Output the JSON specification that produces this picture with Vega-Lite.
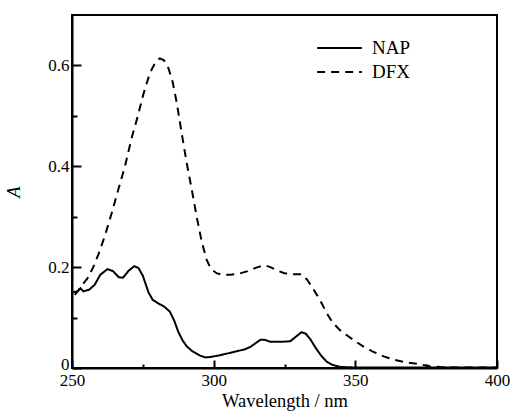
{
  "$schema": "https://vega.github.io/schema/vega-lite/v6.json",
  "width": 425,
  "height": 353,
  "autosize": {"type": "none"},
  "padding": {"left": 72, "top": 15, "right": 16, "bottom": 46},
  "background": "white",
  "config": {
    "font": "'Liberation Serif', 'Times New Roman', Times, serif",
    "view": {"stroke": "black", "strokeWidth": 2},
    "axis": {
      "grid": false,
      "domainColor": "black",
      "domainWidth": 2,
      "tickColor": "black",
      "tickWidth": 2,
      "labelColor": "black",
      "titleColor": "black",
      "labelFont": "'Liberation Serif', 'Times New Roman', Times, serif",
      "titleFont": "'Liberation Serif', 'Times New Roman', Times, serif",
      "labelFontSize": 17,
      "titleFontSize": 18.5,
      "titleFontWeight": "normal"
    },
    "legend": {
      "labelFont": "'Liberation Serif', 'Times New Roman', Times, serif"
    }
  },
  "data": {
    "values": [
      {"series": "NAP", "x": 250, "y": 0.150},
      {"series": "NAP", "x": 252, "y": 0.152},
      {"series": "NAP", "x": 253, "y": 0.158},
      {"series": "NAP", "x": 254, "y": 0.152},
      {"series": "NAP", "x": 256, "y": 0.155},
      {"series": "NAP", "x": 258, "y": 0.165},
      {"series": "NAP", "x": 260, "y": 0.185},
      {"series": "NAP", "x": 262.5, "y": 0.196},
      {"series": "NAP", "x": 264.5, "y": 0.192},
      {"series": "NAP", "x": 266.5, "y": 0.180},
      {"series": "NAP", "x": 268, "y": 0.179},
      {"series": "NAP", "x": 270, "y": 0.193},
      {"series": "NAP", "x": 272, "y": 0.202},
      {"series": "NAP", "x": 273.5, "y": 0.198},
      {"series": "NAP", "x": 275, "y": 0.183},
      {"series": "NAP", "x": 277, "y": 0.150},
      {"series": "NAP", "x": 278.5, "y": 0.135},
      {"series": "NAP", "x": 280.5, "y": 0.128},
      {"series": "NAP", "x": 282.5, "y": 0.122},
      {"series": "NAP", "x": 284.5, "y": 0.112},
      {"series": "NAP", "x": 286, "y": 0.095},
      {"series": "NAP", "x": 287.5, "y": 0.072},
      {"series": "NAP", "x": 289, "y": 0.055},
      {"series": "NAP", "x": 290.5, "y": 0.043},
      {"series": "NAP", "x": 292.5, "y": 0.033},
      {"series": "NAP", "x": 295, "y": 0.025},
      {"series": "NAP", "x": 297, "y": 0.021},
      {"series": "NAP", "x": 299, "y": 0.022},
      {"series": "NAP", "x": 302, "y": 0.025},
      {"series": "NAP", "x": 305, "y": 0.029},
      {"series": "NAP", "x": 308, "y": 0.033},
      {"series": "NAP", "x": 311, "y": 0.037},
      {"series": "NAP", "x": 313, "y": 0.042},
      {"series": "NAP", "x": 315, "y": 0.050},
      {"series": "NAP", "x": 316.5, "y": 0.056},
      {"series": "NAP", "x": 318, "y": 0.056},
      {"series": "NAP", "x": 320, "y": 0.052},
      {"series": "NAP", "x": 324, "y": 0.052},
      {"series": "NAP", "x": 327, "y": 0.053},
      {"series": "NAP", "x": 329, "y": 0.062},
      {"series": "NAP", "x": 331, "y": 0.071},
      {"series": "NAP", "x": 332.5, "y": 0.068},
      {"series": "NAP", "x": 334, "y": 0.058},
      {"series": "NAP", "x": 336, "y": 0.040},
      {"series": "NAP", "x": 338, "y": 0.024},
      {"series": "NAP", "x": 340, "y": 0.012},
      {"series": "NAP", "x": 342, "y": 0.006},
      {"series": "NAP", "x": 345, "y": 0.002},
      {"series": "NAP", "x": 350, "y": 0.001},
      {"series": "NAP", "x": 360, "y": 0.001},
      {"series": "NAP", "x": 380, "y": 0.001},
      {"series": "NAP", "x": 400, "y": 0.001},
      {"series": "DFX", "x": 251, "y": 0.145},
      {"series": "DFX", "x": 253, "y": 0.160},
      {"series": "DFX", "x": 255.5, "y": 0.178},
      {"series": "DFX", "x": 257.5, "y": 0.200},
      {"series": "DFX", "x": 259.3, "y": 0.225},
      {"series": "DFX", "x": 261.6, "y": 0.262},
      {"series": "DFX", "x": 264, "y": 0.307},
      {"series": "DFX", "x": 266.3, "y": 0.353},
      {"series": "DFX", "x": 268.7, "y": 0.400},
      {"series": "DFX", "x": 271, "y": 0.455},
      {"series": "DFX", "x": 273, "y": 0.495},
      {"series": "DFX", "x": 275.2, "y": 0.543},
      {"series": "DFX", "x": 277.5, "y": 0.585},
      {"series": "DFX", "x": 279.5, "y": 0.607},
      {"series": "DFX", "x": 281, "y": 0.614},
      {"series": "DFX", "x": 282.5, "y": 0.610},
      {"series": "DFX", "x": 284, "y": 0.595},
      {"series": "DFX", "x": 285.5, "y": 0.568},
      {"series": "DFX", "x": 287, "y": 0.525},
      {"series": "DFX", "x": 288.7, "y": 0.466},
      {"series": "DFX", "x": 290.5, "y": 0.406},
      {"series": "DFX", "x": 292.3, "y": 0.353},
      {"series": "DFX", "x": 294, "y": 0.300},
      {"series": "DFX", "x": 295.8, "y": 0.250},
      {"series": "DFX", "x": 297.5, "y": 0.215},
      {"series": "DFX", "x": 299, "y": 0.197},
      {"series": "DFX", "x": 301, "y": 0.188},
      {"series": "DFX", "x": 303, "y": 0.185},
      {"series": "DFX", "x": 306, "y": 0.185},
      {"series": "DFX", "x": 309, "y": 0.187},
      {"series": "DFX", "x": 312, "y": 0.192},
      {"series": "DFX", "x": 315, "y": 0.199},
      {"series": "DFX", "x": 318, "y": 0.204},
      {"series": "DFX", "x": 320, "y": 0.200},
      {"series": "DFX", "x": 322.5, "y": 0.193},
      {"series": "DFX", "x": 325, "y": 0.188},
      {"series": "DFX", "x": 328, "y": 0.186},
      {"series": "DFX", "x": 331, "y": 0.186},
      {"series": "DFX", "x": 333, "y": 0.175},
      {"series": "DFX", "x": 335, "y": 0.158},
      {"series": "DFX", "x": 337.5, "y": 0.135},
      {"series": "DFX", "x": 340, "y": 0.108},
      {"series": "DFX", "x": 342, "y": 0.090},
      {"series": "DFX", "x": 344.6, "y": 0.075},
      {"series": "DFX", "x": 347, "y": 0.065},
      {"series": "DFX", "x": 350, "y": 0.053},
      {"series": "DFX", "x": 353, "y": 0.042},
      {"series": "DFX", "x": 356, "y": 0.033},
      {"series": "DFX", "x": 360, "y": 0.023},
      {"series": "DFX", "x": 364, "y": 0.016},
      {"series": "DFX", "x": 368, "y": 0.011},
      {"series": "DFX", "x": 372, "y": 0.008},
      {"series": "DFX", "x": 376, "y": 0.004},
      {"series": "DFX", "x": 380, "y": 0.002},
      {"series": "DFX", "x": 385, "y": 0.001},
      {"series": "DFX", "x": 400, "y": 0.001}
    ]
  },
  "mark": {"type": "line", "color": "black", "strokeWidth": 2, "clip": true},
  "encoding": {
    "x": {
      "field": "x",
      "type": "quantitative",
      "scale": {"domain": [250, 400], "nice": false, "zero": false},
      "axis": {
        "title": "Wavelength / nm",
        "values": [250, 275, 300, 325, 350, 375, 400],
        "labelExpr": "datum.value % 50 === 0 ? datum.label : ''",
        "tickSize": {"condition": {"test": "datum.value % 50 === 0", "value": -8}, "value": -4},
        "labelPadding": 12,
        "titlePadding": 3,
        "labelFlush": false
      }
    },
    "y": {
      "field": "y",
      "type": "quantitative",
      "scale": {"domain": [0, 0.7], "nice": false},
      "axis": {
        "title": "A",
        "titleFontStyle": "italic",
        "values": [0, 0.1, 0.2, 0.3, 0.4, 0.5, 0.6],
        "labelExpr": "datum.value === 0 ? '0' : (round(datum.value * 10) % 2 === 0 ? format(datum.value, '.1f') : '')",
        "labelOffset": {"condition": {"test": "datum.value === 0", "value": -4}, "value": 0},
        "tickSize": {"condition": {"test": "round(datum.value * 10) % 2 === 0", "value": -9}, "value": -5},
        "labelPadding": 12,
        "titlePadding": 24,
        "labelFlush": false
      }
    },
    "strokeDash": {
      "field": "series",
      "type": "nominal",
      "scale": {"domain": ["NAP", "DFX"], "range": [[1, 0], [8, 6]]},
      "legend": {
        "title": null,
        "orient": "none",
        "legendX": 244,
        "legendY": 21,
        "symbolType": "stroke",
        "symbolStrokeColor": "black",
        "symbolStrokeWidth": 2,
        "symbolSize": 2000,
        "clipHeight": 24,
        "labelFontSize": 19,
        "labelColor": "black",
        "rowPadding": 0,
        "labelOffset": 9
      }
    }
  }
}
